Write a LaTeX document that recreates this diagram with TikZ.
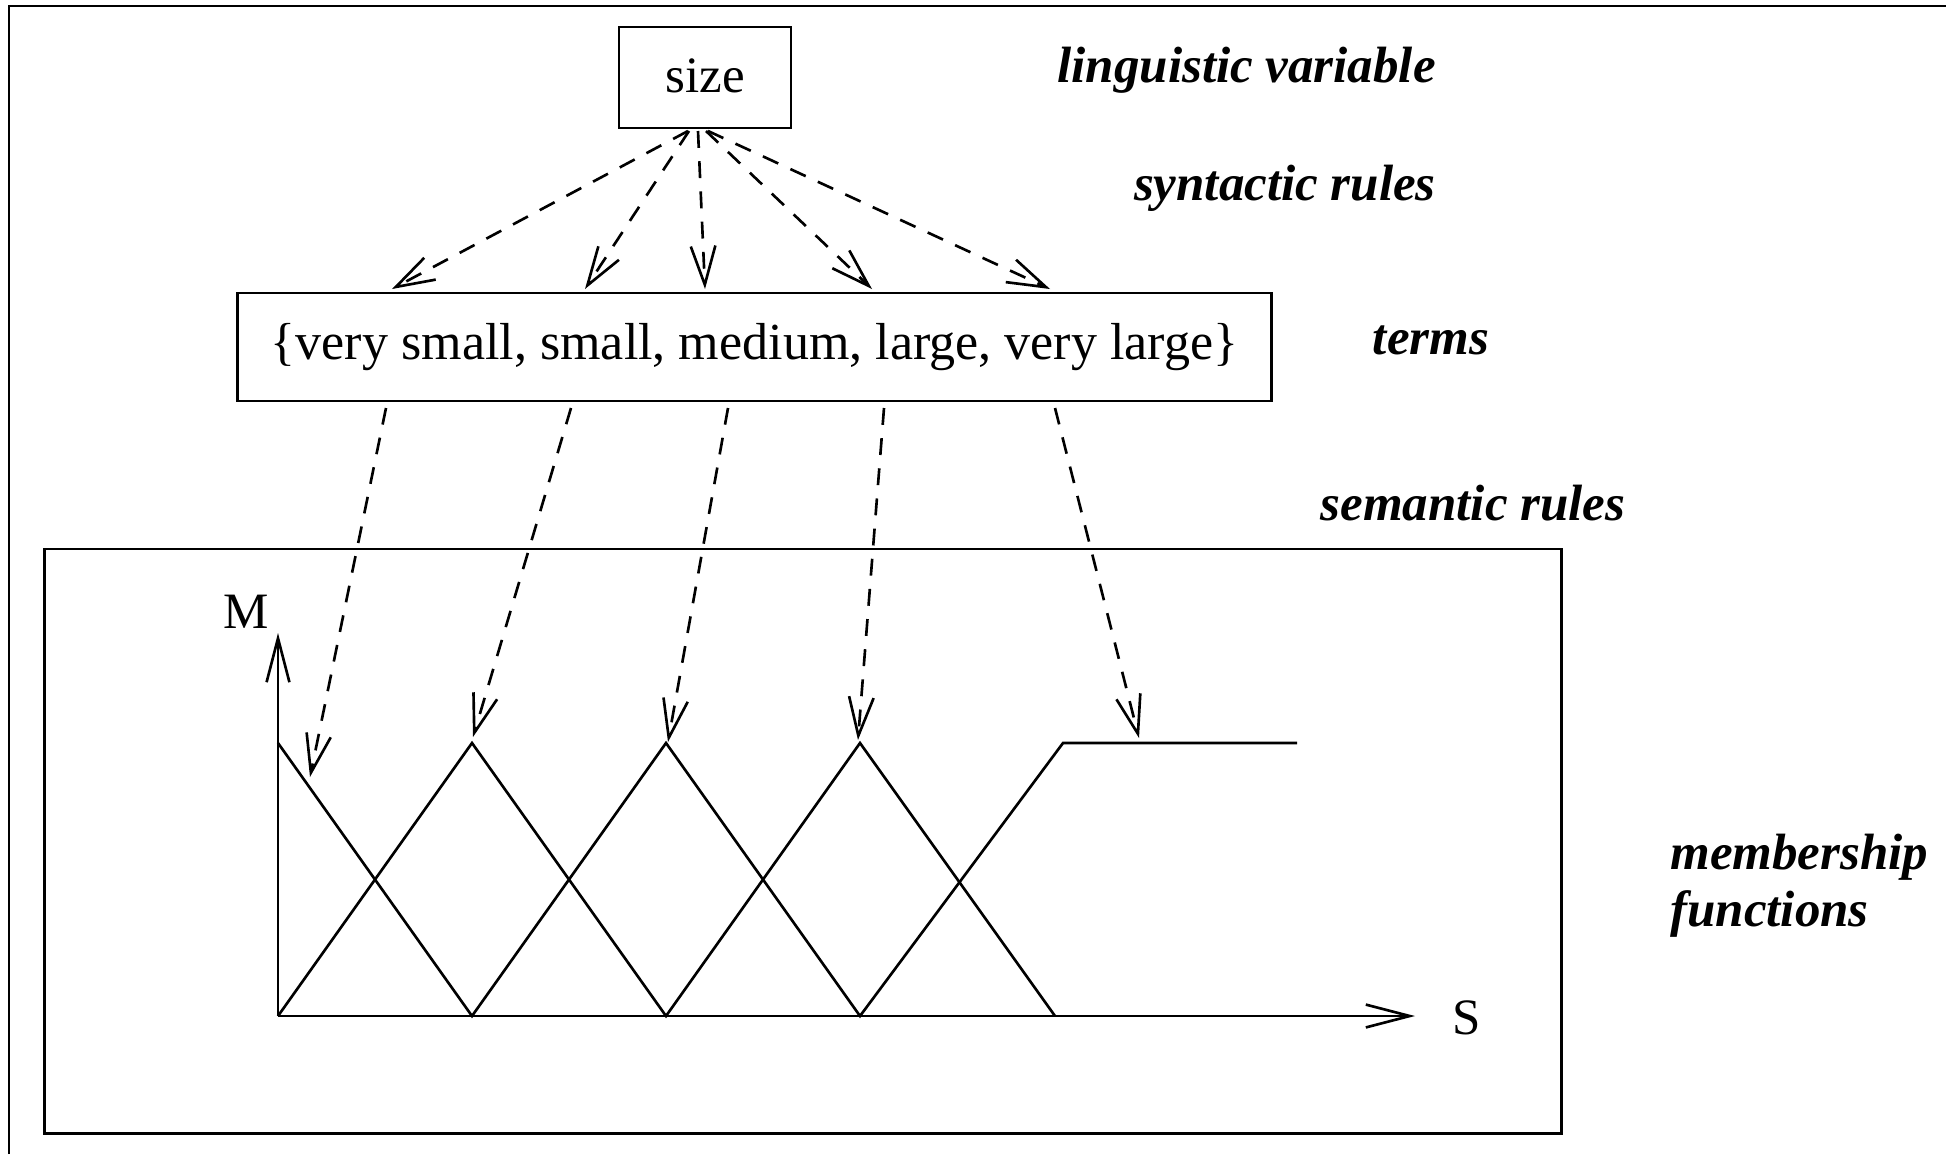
\documentclass[tikz,border=0pt]{standalone}
\usepackage{fontspec}
\setmainfont{Liberation Serif}
\usetikzlibrary{arrows.meta}
\begin{document}
\begin{tikzpicture}[x=0.01cm,y=-0.01cm,
  line width=0.75pt,
  boxnode/.style={draw, inner sep=0pt, font=\fontsize{14.5}{17}\selectfont},
  lbl/.style={font=\fontsize{14.5}{16.2}\selectfont\bfseries\itshape, inner sep=0pt},
  plain/.style={font=\fontsize{14.5}{17}\selectfont, inner sep=0pt},
  dasharrow/.style={dash pattern=on 4.8pt off 3.8pt, -{Straight Barb[length=11pt,width=7pt]}},
  axisarrow/.style={-{Straight Barb[length=12.5pt,width=6.5pt]}}
]
\useasboundingbox (0,0) rectangle (1946,1154);
% outer frame (cropped)
\draw (9,1154) -- (9,6) -- (1946,6);

\node[boxnode, minimum width=1.72cm, minimum height=1.01cm] (size) at (705,77.5) {\raisebox{1.2pt}{size}};
\node[boxnode, minimum width=10.33cm, minimum height=1.08cm, font=\fontsize{14.8}{17}\selectfont] (terms) at (754.5,347) {\raisebox{1.4pt}{\{very small, small, medium, large, very large\}}};
\node[draw, minimum width=15.16cm, minimum height=5.84cm, inner sep=0pt] (mf) at (803,841) {};

% labels
\node[lbl, anchor=east] (lv) at (1437,70) {linguistic variable};
\node[lbl, anchor=east] (sr) at (1437,188) {syntactic rules};
\node[lbl] (tl) at (1431,340) {terms};
\node[lbl] (sem) at (1473,503) {semantic rules};
\node[lbl, anchor=west, align=left] (mfl) at (1669,886) {membership\\functions};

% axes
\coordinate (O) at (278,1016);
\coordinate (Mtop) at (278,633);
\coordinate (Send) at (1415,1016);
\draw[axisarrow] (O) -- (Mtop);
\draw[axisarrow] (O) -- (Send);
\node[plain] (M) at (246,612) {M};
\node[plain] (S) at (1467,1018) {S};

% membership functions
\draw[line join=miter] (278,743) -- (472,1016) -- (666,743) -- (860,1016) -- (1063,743) -- (1297,743);
\draw[line join=miter] (278,1016) -- (472,743) -- (666,1016) -- (860,743) -- (1055,1016);

% syntactic rule arrows
\coordinate (s1) at (688,131);
\coordinate (s2) at (689,131);
\coordinate (s3) at (698,131);
\coordinate (s4) at (706,131);
\coordinate (s5) at (708,131);
\coordinate (t1) at (392,289);
\coordinate (t2) at (585,289);
\coordinate (t3) at (705,289);
\coordinate (t4) at (872,289);
\coordinate (t5) at (1050,289);
\foreach \i in {1,...,5} \draw[dasharrow] (s\i) -- (t\i);

% semantic rule arrows
\coordinate (u1) at (386,408);
\coordinate (u2) at (571,408);
\coordinate (u3) at (728,408);
\coordinate (u4) at (884,408);
\coordinate (u5) at (1055,408);
\coordinate (m1) at (310,777);
\coordinate (m2) at (473,737);
\coordinate (m3) at (668,742);
\coordinate (m4) at (858,740);
\coordinate (m5) at (1139,738);
\foreach \i in {1,...,5} \draw[dasharrow] (u\i) -- (m\i);
\end{tikzpicture}
\end{document}
